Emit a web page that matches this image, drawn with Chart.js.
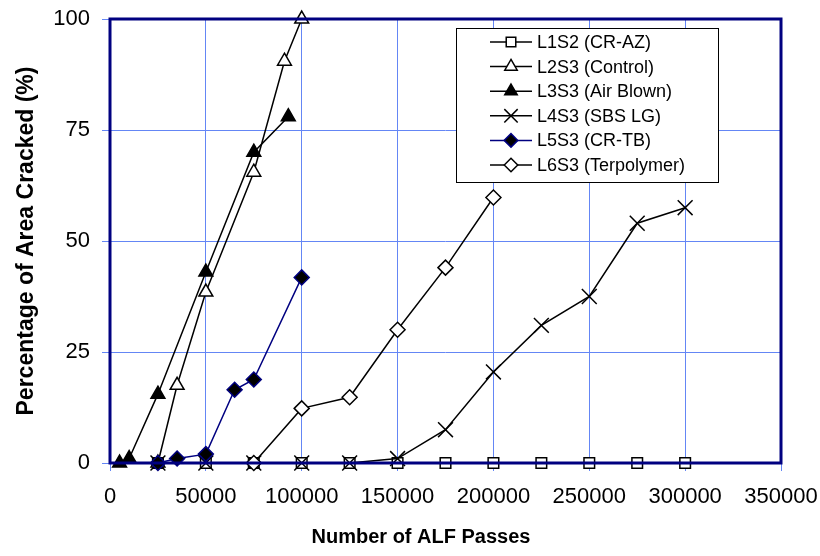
<!DOCTYPE html>
<html>
<head>
<meta charset="utf-8">
<script src="https://cdn.jsdelivr.net/npm/chart.js@4.4.1/dist/chart.umd.min.js"></script>
<style>
  html, body { margin: 0; padding: 0; background: #fff; }
  #wrap { width: 820px; height: 556px; }
</style>
</head>
<body>
<div id="wrap"><canvas id="c" width="820" height="556"></canvas></div>
<script>
// values
const seriesNames = ["L1S2 (CR-AZ)", "L2S3 (Control)", "L3S3 (Air Blown)", "L4S3 (SBS LG)", "L5S3 (CR-TB)", "L6S3 (Terpolymer)"];

const l1Passes = [25000, 50000, 75000, 100000, 125000, 150000, 175000, 200000, 225000, 250000, 275000, 300000];
const l1Cracked = [0, 0, 0, 0, 0, 0, 0, 0, 0, 0, 0, 0];

const l2Passes = [25000, 35000, 50000, 75000, 91000, 100000];
const l2Cracked = [0, 17.5, 38.5, 65.5, 90.5, 100];

const l3Passes = [5000, 10000, 25000, 50000, 75000, 93000];
const l3Cracked = [0, 1, 15.5, 43, 70, 78];

const l4Passes = [25000, 50000, 75000, 100000, 125000, 150000, 175000, 200000, 225000, 250000, 275000, 300000];
const l4Cracked = [0, 0, 0, 0, 0, 1, 7.5, 20.5, 31, 37.5, 54, 57.5];

const l5Passes = [25000, 35000, 50000, 65000, 75000, 100000];
const l5Cracked = [0, 1, 2, 16.5, 18.8, 41.8];

const l6Passes = [75000, 100000, 125000, 150000, 175000, 200000];
const l6Cracked = [0, 12.3, 14.8, 30, 44, 59.8];

const xTickLabels = ["0", "50000", "100000", "150000", "200000", "250000", "300000", "350000"];
const yTickLabels = ["0", "25", "50", "75", "100"];

const navy = "#000080";
const gridBlue = "#6486f5";
const font = "'Liberation Sans', Arial, sans-serif";

function pts(xs, ys) {
  return xs.map((x, i) => ({ x: x, y: ys[i] }));
}

const styles = [
  { pointStyle: "rect", radius: 7.5, fill: "#ffffff", line: "#000000", border: "#000000" },
  { pointStyle: "triangle", radius: 8, fill: "#ffffff", line: "#000000", border: "#000000" },
  { pointStyle: "triangle", radius: 8, fill: "#000000", line: "#000000", border: "#000000" },
  { pointStyle: "crossRot", radius: 10.5, fill: "#000000", line: "#000000", border: "#000000" },
  { pointStyle: "rectRot", radius: 7.5, fill: "#000000", line: navy, border: navy },
  { pointStyle: "rectRot", radius: 7.5, fill: "#ffffff", line: "#000000", border: "#000000" }
];

const allPoints = [
  pts(l1Passes, l1Cracked),
  pts(l2Passes, l2Cracked),
  pts(l3Passes, l3Cracked),
  pts(l4Passes, l4Cracked),
  pts(l5Passes, l5Cracked),
  pts(l6Passes, l6Cracked)
];

const datasets = allPoints.map((d, i) => ({
  label: seriesNames[i],
  data: d,
  order: 6 - i,
  borderColor: styles[i].line,
  borderWidth: 1.5,
  pointStyle: styles[i].pointStyle,
  pointRadius: styles[i].radius,
  pointBackgroundColor: styles[i].fill,
  pointBorderColor: styles[i].border,
  pointBorderWidth: 1.5,
  tension: 0,
  clip: false
}));

// plot frame, x title and the boxed legend
const extras = {
  id: "extras",
  afterDatasetsDraw(chart) {
    const ctx = chart.ctx;
    const a = chart.chartArea;
    ctx.save();
    ctx.strokeStyle = navy;
    ctx.lineWidth = 3;
    ctx.strokeRect(a.left, a.top, a.right - a.left, a.bottom - a.top);

    ctx.fillStyle = "#000";
    ctx.font = "bold 20px " + font;
    ctx.textAlign = "center";
    ctx.textBaseline = "middle";
    ctx.fillText("Number of ALF Passes", 421, 537);

    // legend
    const bx = 456, by = 28, bw = 262, bh = 154;
    ctx.fillStyle = "#fff";
    ctx.fillRect(bx, by, bw, bh);
    ctx.strokeStyle = "#000";
    ctx.lineWidth = 1;
    ctx.strokeRect(bx + 0.5, by + 0.5, bw, bh);
    ctx.font = "18px " + font;
    ctx.textAlign = "left";
    for (let i = 0; i < seriesNames.length; i++) {
      const y = 42 + i * 24.6;
      const s = styles[i];
      ctx.strokeStyle = s.line;
      ctx.lineWidth = 1.5;
      ctx.beginPath();
      ctx.moveTo(490, y);
      ctx.lineTo(532, y);
      ctx.stroke();
      ctx.fillStyle = s.fill;
      ctx.strokeStyle = s.border;
      Chart.helpers.drawPoint(ctx, {
        pointStyle: s.pointStyle, radius: s.radius * 0.9, rotation: 0, borderWidth: 1.5
      }, 511, y);
      ctx.fillStyle = "#000";
      ctx.fillText(seriesNames[i], 537, y + 1);
    }
    ctx.restore();
  }
};

new Chart(document.getElementById("c"), {
  type: "line",
  data: { datasets: datasets },
  options: {
    responsive: false,
    animation: false,
    devicePixelRatio: 1,
    layout: { padding: { left: 0, top: 19, right: 39, bottom: 0 } },
    plugins: { legend: { display: false }, tooltip: { enabled: false } },
    scales: {
      x: {
        type: "linear",
        min: 0,
        max: 350000,
        afterBuildTicks(scale) {
          scale.ticks = xTickLabels.map(v => ({ value: Number(v) }));
        },
        afterFit(scale) {
          scale.height = 93;
          scale.paddingLeft = 0;
          scale.paddingRight = 0;
        },
        grid: { color: gridBlue, lineWidth: 1, tickLength: 8, tickColor: gridBlue },
        border: { display: false },
        ticks: {
          maxRotation: 0,
          autoSkip: false,
          padding: 13,
          color: "#000",
          font: { family: font, size: 22 },
          callback: (v, i) => xTickLabels[i]
        }
      },
      y: {
        type: "linear",
        min: 0,
        max: 100,
        afterBuildTicks(scale) {
          scale.ticks = yTickLabels.map(v => ({ value: Number(v) }));
        },
        afterFit(scale) {
          scale.width = 110;
          scale.paddingTop = 0;
          scale.paddingBottom = 0;
        },
        grid: { color: gridBlue, lineWidth: 1, tickLength: 8, tickColor: gridBlue },
        border: { display: false },
        ticks: {
          autoSkip: false,
          padding: 12,
          color: "#000",
          font: { family: font, size: 22 },
          callback: (v, i) => yTickLabels[i]
        },
        title: {
          display: true,
          text: "Percentage of Area Cracked (%)",
          color: "#000",
          font: { family: font, size: 23, weight: "bold" },
          padding: { top: 13, bottom: 0 }
        }
      }
    }
  },
  plugins: [extras]
});
</script>
</body>
</html>
